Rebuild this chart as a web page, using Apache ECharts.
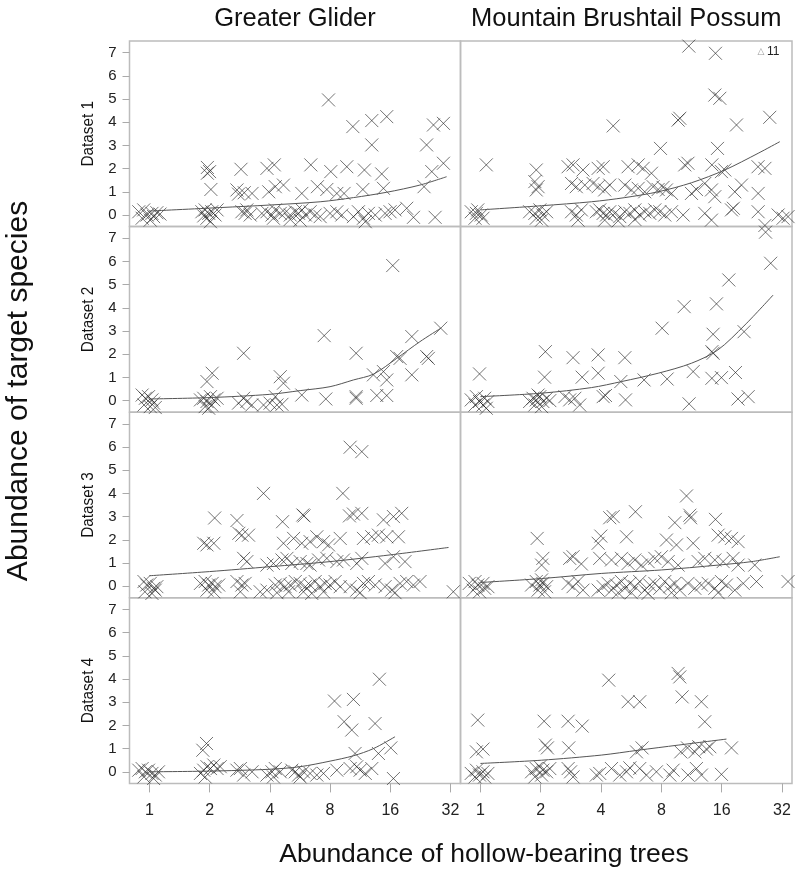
<!DOCTYPE html>
<html>
<head>
<meta charset="utf-8">
<script src="https://cdn.jsdelivr.net/npm/echarts@6/dist/echarts.min.js"></script>
<style>
html,body{margin:0;padding:0;background:#fff;}
#chart{width:797px;height:873px;}
</style>
</head>
<body>
<div id="chart"></div>
<script>
// ---------- data (x = abundance of hollow-bearing trees, y = abundance of target species) ----------
const columnTitles = ['Greater Glider', 'Mountain Brushtail Possum'];
const rowTitles = ['Dataset 1', 'Dataset 2', 'Dataset 3', 'Dataset 4'];
const xTickValues = [1, 2, 4, 8, 16, 32];
const yTickValues = [0, 1, 2, 3, 4, 5, 6, 7];

// Greater Glider, Dataset 1
const gg1 = [[7.86,4.96],[10.4,3.81],[12.93,4.07],[15.36,4.24],[12.93,3.02],[24.3,3.02],[26.3,3.88],[29.5,3.95],[25.8,1.87],[29.5,2.23],[23.6,1.22],[1.95,2.05],[2.0,1.87],[1.95,1.8],[2.03,1.1],[2.87,1.97],[3.87,2.01],[4.21,2.16],[2.74,1.08],[2.98,0.96],[3.26,0.93],[3.95,1.0],[4.26,1.22],[4.68,1.29],[5.78,0.93],[6.41,2.16],[6.92,1.22],[7.71,1.1],[8.65,0.93],[9.4,0.93],[8.07,1.87],[9.7,2.08],[11.88,1.94],[14.5,1.77],[11.67,1.1],[14.79,1.15],[19.33,0.29],[20.9,-0.1],[26.8,-0.1],[2.79,0.9],
[0.885,0.14],[0.937,0.22],[0.974,0],[1.03,0.07],[1.09,0.1],[0.92,-0.14],[1.01,-0.22],[1.05,-0.07],[1.13,0.04],
[1.83,0.14],[1.9,0.22],[1.98,0.07],[2.05,0.14],[2.13,0],[1.94,-0.14],[2.02,-0.29],[2.18,0.22],[1.87,-0.04],
[2.9,0.14],[3.01,0.07],[3.19,0],[3.07,0.22],
[3.65,0.07],[3.87,0.14],[4.1,0],[4.26,0.22],[4.51,0.07],[4.77,0.1],[5.06,0],[5.36,0.14],[5.57,0.07],[5.79,0.22],[6.02,0],[6.36,0.14],[6.74,0],[7.14,-0.07],[4.17,-0.14],[5.06,-0.19],[5.67,-0.22],
[8.0,0.07],[8.65,0.14],[9.16,0],[10.47,-0.07],[11.09,0.14],[11.75,-0.14],[12.44,0.07],[13.45,0],[15.07,0.07],[15.96,0.14],[16.9,0.22],[12.0,-0.29]];

// Mountain Brushtail Possum, Dataset 1
const mb1 = [[10.97,7.28],[14.9,6.97],[14.8,5.17],[15.66,5.03],[9.89,4.17],[9.7,4.09],[18.97,3.88],[27.8,4.21],[4.6,3.84],[7.92,2.87],[15.25,2.87],[1.07,2.16],[1.9,1.94],[2.74,2.08],[2.9,2.16],[3.25,1.94],[3.87,2.01],[4.1,2.08],[5.46,2.08],[6.13,2.16],[6.49,2.01],[7.14,1.8],[10.47,2.16],[10.86,2.23],[14.3,2.16],[15.96,1.87],[24.3,2.08],[26.3,2.01],
[1.87,1.44],[1.94,1.22],[1.9,1.08],[2.85,1.36],[3.01,1.22],[3.32,1.29],[3.65,1.36],[3.87,1.22],[4.17,1.08],[4.42,1.29],
[5.26,1.29],[5.67,1.08],[6.13,1.15],[6.61,1.0],[7.28,1.22],[7.71,1.1],[8.16,1.19],[8.48,1.08],[8.99,0.93],
[11.31,0.93],[11.97,1.1],[13.18,1.36],[14.23,1.08],[14.79,0.79],[16.59,1.94],
[18.61,1.0],[20.09,1.29],[24.33,0.93],[18.3,0.29],
[0.9,0.14],[0.955,0.07],[1.01,0],[0.97,0.22],[0.94,-0.14],[1.03,-0.14],
[1.76,0.14],[1.87,0.07],[1.98,0.22],[2.05,0],[2.14,0.14],[1.9,-0.14],[2.02,-0.22],
[2.85,0.14],[3.01,0],[3.19,0.22],[3.07,-0.22],
[3.79,0.14],[3.94,0.22],[4.1,0.07],[4.26,0],[4.42,0.14],[4.68,0.07],[4.96,-0.07],[5.26,0.14],[5.57,0.07],[5.9,0.22],[6.24,0],[6.61,0.14],[7.0,0.07],[7.42,0.22],[7.86,0.14],[8.32,0],[8.99,0.14],[4.17,-0.22],[4.87,-0.25],[5.9,-0.19],
[10.27,0],[13.18,0.07],[14.23,-0.22],[17.91,0.22],[24.33,0.14],[30.6,0],[32.4,-0.14],[26.3,-0.45],[34.3,-0.07]];

// Greater Glider, Dataset 2
const gg2 = [[16.46,5.82],[7.48,2.8],[2.96,2.04],[10.8,2.04],[20.5,2.76],[28.6,3.12],[17.23,1.9],[17.91,1.82],[24.33,1.9],[24.8,1.82],[20.5,1.11],[13.18,1.11],[14.79,1.25],[15.36,0.89],[2.06,1.18],[1.94,0.82],[4.51,1.03],[4.68,0.75],[5.78,0.24],[7.62,0.07],[10.8,0.17],[10.8,0.1],[13.7,0.22],[15.36,0.22],
[0.92,0.24],[0.955,0.1],[0.99,0.17],[1.03,0.03],[1.05,-0.11],[0.94,-0.19],[1.01,-0.26],[1.07,-0.3],
[1.8,0.03],[1.87,0.1],[1.94,-0.04],[2.02,0.17],[2.1,0.03],[2.18,0.1],[1.9,-0.26],[2.05,-0.19],[1.98,-0.33],
[2.79,-0.11],[2.96,0.1],[3.07,-0.04],[3.25,-0.19],
[3.72,-0.19],[4.01,-0.11],[4.26,0.17],[4.34,-0.19],[4.6,-0.16]];

// Mountain Brushtail Possum, Dataset 2
const mb2 = [[26.5,7.26],[28.1,5.92],[17.37,5.2],[10.4,4.05],[15.07,4.17],[8.07,3.12],[14.5,2.86],[20.7,2.97],[14.3,2.11],[14.5,2.04],[2.11,2.11],[2.9,1.85],[3.87,1.97],[5.26,1.85],[0.99,1.15],[2.09,1.01],[3.22,1.01],[3.87,1.18],[5.02,0.82],[6.56,0.89],[8.55,0.93],[11.53,1.25],[14.3,0.96],[15.96,0.99],[18.75,1.21],[4.21,0.22],[5.3,0.03],[11.0,-0.14],[19.3,0.07],[21.7,0.17],
[0.9,0.03],[0.955,0.17],[0.99,-0.04],[1.05,0.1],[1.09,-0.04],[0.94,-0.19],[1.03,-0.19],[1.07,-0.33],
[1.76,-0.04],[1.83,0.1],[1.9,0.03],[1.98,0.17],[2.05,-0.04],[2.14,0.1],[2.22,0],[1.87,-0.19],[2.02,-0.26],[1.94,0.24],
[2.64,0.17],[2.79,0.03],[2.96,0.1],[3.13,-0.19],[4.1,0.17]];

// Greater Glider, Dataset 3
const gg3 = [[10.08,5.99],[11.53,5.8],[3.72,4.0],[9.27,4.0],[2.12,2.94],[2.74,2.83],[4.63,2.78],[5.85,3.07],[5.93,3.03],[10.0,3.03],[10.47,3.11],[11.53,3.14],[14.79,2.86],[16.6,3.0],[18.25,3.14],
[2.8,2.28],[2.9,2.2],[3.13,2.2],[1.87,1.85],[1.94,1.78],[2.1,1.85],
[4.68,1.85],[5.26,2.06],[5.78,1.85],[6.36,1.92],[6.87,2.13],[7.42,1.92],[7.86,1.78],[8.99,2.06],
[11.75,2.06],[12.93,2.13],[13.96,2.2],[15.36,2.13],[17.57,2.13],
[2.96,1.2],[3.07,1.06],
[3.87,0.91],[4.17,0.98],[4.6,1.13],[4.87,1.2],[5.15,0.98],[5.67,1.06],[6.13,0.98],[6.36,0.91],[7.01,1.13],[7.71,1.2],
[8.65,1.06],[9.34,1.13],[10.88,0.98],[11.53,1.2],[15.07,0.98],[16.6,1.27],[18.95,1.06],
[0.94,0.2],[0.97,0.05],[1.01,0.12],[1.05,-0.09],[1.09,-0.02],[0.95,-0.24],[1.03,-0.31],[1.07,-0.17],
[1.8,0.12],[1.9,0.2],[1.98,0.05],[2.06,0.12],[2.13,-0.02],[2.22,0.05],[1.94,-0.17],[2.1,-0.24],
[2.74,0.2],[2.9,0.05],[3.01,0.12],[2.85,-0.24],
[3.58,-0.24],[3.87,-0.17],[4.26,0.05],[4.51,0.12],[4.77,-0.02],[5.06,0.05],[5.36,0.2],[5.67,0.12],[6.02,-0.02],[6.36,0.05],[6.74,0.2],[7.14,-0.02],[7.56,0.12],[8.0,0.05],[8.48,0.2],[8.99,-0.02],[4.34,-0.28],[4.96,-0.24],[5.89,-0.24],[6.48,-0.31],[7.42,-0.24],
[10.08,-0.02],[10.88,-0.17],[11.75,0.12],[12.44,0.2],[13.45,0.05],[15.07,-0.02],[16.27,-0.17],[17.91,0.12],[19.33,0.2],[20.87,0.05],[22.53,0.2],[11.31,-0.28],[16.9,-0.28],[33.06,-0.24]];

// Mountain Brushtail Possum, Dataset 3
const mb3 = [[10.68,3.89],[11.09,3.06],[11.2,2.95],[4.42,2.95],[4.6,3.0],[5.94,3.21],[9.34,2.74],[14.9,2.88],[1.92,2.06],[3.99,2.16],[3.87,1.85],[5.36,2.13],[8.48,1.99],[9.52,1.78],[11.53,1.85],[15.36,2.2],[16.59,2.13],[17.91,2.06],[19.33,1.92],
[2.05,1.2],[2.02,0.91],[2.79,1.2],[2.9,1.27],[3.19,0.96],[3.94,1.2],[4.51,1.13],[5.06,1.2],[5.46,0.98],[5.9,1.13],[6.36,0.91],[6.87,1.06],[7.42,1.2],[8.0,1.27],[8.65,1.06],[9.7,0.91],[12.21,1.06],[13.18,1.2],[14.79,1.13],[16.27,1.06],[18.25,1.2],[19.33,0.91],[23.4,0.91],
[0.88,0.12],[0.94,0.2],[0.97,0.05],[1.03,0.12],[1.09,-0.02],[0.92,-0.17],[0.99,-0.24],[1.05,-0.09],
[1.8,0.05],[1.9,0.2],[1.98,0.05],[2.05,0.12],[2.14,-0.02],[1.94,-0.17],[2.09,-0.24],[2.02,0.27],
[2.74,0.12],[2.9,-0.02],[3.07,0.2],[3.25,-0.17],
[3.87,-0.17],[4.1,-0.02],[4.34,0.12],[4.51,-0.17],[4.77,0.05],[5.06,0.2],[5.26,-0.09],[5.57,0.12],[5.9,-0.02],[6.24,0.2],[6.61,-0.17],[7.0,0.05],[7.42,0.12],[7.86,-0.09],[8.32,0.2],[8.82,-0.02],[9.34,0.12],[9.89,-0.17],[4.87,-0.28],[5.67,-0.28],[6.87,-0.31],[8.99,-0.28],
[10.86,0.12],[11.75,-0.09],[12.68,0.05],[13.7,0.12],[14.79,-0.09],[15.96,0.2],[16.9,0.05],[18.61,-0.17],[20.5,0.12],[23.88,0.2],[34.3,0.2],[15.36,-0.28]];

// Greater Glider, Dataset 4
const gg4 = [[14.12,3.99],[8.42,3.05],[10.47,3.12],[9.41,2.16],[10.27,1.8],[13.43,2.08],[1.93,1.22],[1.85,0.93],[10.67,0.79],[13.96,0.79],[16.1,1.03],
[0.885,0.07],[0.92,0.14],[0.955,0],[0.99,0.07],[1.03,-0.07],[1.07,-0.14],[1.11,0],[0.94,-0.22],[1.05,-0.29],
[1.8,-0.07],[1.87,0.07],[1.94,0.22],[2.02,0.14],[2.1,0.29],[2.18,0.14],[2.26,0.22],[1.9,-0.22],
[2.74,0.07],[2.85,0.14],[2.96,-0.14],[3.26,0],
[3.87,-0.14],[4.1,0],[4.26,0.14],[4.51,0],[5.15,0.07],[5.36,0],[5.57,-0.14],[5.89,0],[6.36,-0.07],[6.87,-0.14],[7.42,-0.07],[8.65,0.07],[4.17,-0.22],[5.67,-0.22],
[10.08,0.14],[10.88,0.22],[11.31,0.07],[12.0,-0.07],[12.93,0.14],[16.59,-0.29]];

// Mountain Brushtail Possum, Dataset 4
const mb4 = [[4.37,3.95],[9.7,4.24],[9.89,4.09],[5.46,3.02],[6.24,3.02],[10.16,3.23],[12.68,3.02],[13.18,2.16],[0.97,2.23],[2.08,2.18],[2.74,2.18],[3.22,1.97],[0.955,0.86],[1.03,0.98],[2.11,1.15],[2.16,1.03],[2.76,1.03],[6.01,0.86],[6.41,1.03],[10.0,0.86],[10.8,1.03],[11.75,0.86],[12.3,1.08],[13.43,0.98],[13.96,1.08],[17.91,1.03],
[0.9,-0.07],[0.955,0.07],[0.99,-0.14],[1.03,0],[1.09,-0.07],[0.94,-0.22],[1.05,-0.22],
[1.8,0],[1.9,0.14],[1.98,0.22],[2.05,0.07],[2.14,0],[2.22,0.14],[1.87,-0.22],[2.02,-0.14],
[2.74,0.14],[2.82,0],[2.9,-0.22],
[3.79,-0.14],[3.94,-0.07],[4.51,0.14],[4.96,-0.14],[5.36,0],[5.57,0.17],[6.24,0.14],[6.74,-0.14],[7.56,0],[8.82,-0.14],[9.16,0.07],[10.86,-0.14],[11.97,0.14],[12.68,-0.14],[15.96,-0.11]];

// fitted curves
const fitGG1 = [[1,0.17],[2.26,0.32],[4,0.43],[7.14,0.57],[10.47,0.75],[15.36,0.98],[22.5,1.29],[30.6,1.65]];
const fitMB1 = [[1,0.22],[2.02,0.4],[3.58,0.57],[5.26,0.75],[7.71,1.0],[11.31,1.39],[16.59,1.94],[24.33,2.66],[31.2,3.16]];
const fitGG2 = [[1,0.07],[2,0.13],[4,0.27],[5.67,0.43],[8,0.6],[10.47,0.89],[13.18,1.14],[17.23,1.82],[22.5,2.54],[28.6,3.12]];
const fitMB2 = [[1,0.17],[2.02,0.32],[3.58,0.56],[5.06,0.82],[7.71,1.18],[11.3,1.61],[15.3,2.18],[20.9,3.26],[28.9,4.55]];
const fitGG3 = [[1,0.45],[2,0.63],[4,0.84],[8,1.06],[16,1.35],[31.3,1.67]];
const fitMB3 = [[1,0.16],[2.02,0.33],[4.01,0.55],[8,0.7],[15.36,0.91],[22.6,1.06],[31.2,1.27]];
const fitGG4 = [[1,0],[2,0.03],[4,0.11],[5.67,0.22],[8,0.46],[10.47,0.69],[13.18,1.0],[16.9,1.51]];
const fitMB4 = [[1,0.36],[2.02,0.5],[4.01,0.72],[6.13,0.93],[9.7,1.15],[16.9,1.41]];

const panelPoints = [[gg1, mb1], [gg2, mb2], [gg3, mb3], [gg4, mb4]];
const panelFits = [[fitGG1, fitMB1], [fitGG2, fitMB2], [fitGG3, fitMB3], [fitGG4, fitMB4]];

// ---------- layout ----------
const FONT = "'Liberation Sans', Arial, sans-serif";
const colLeft = [129.5, 460.5];
const colWidth = [331, 331.5];
const rowTop = 41, rowH = 185.6;
const xMin = -0.33, xMax = 5.166; // log2 units
const toLog = p => [Math.log2(p[0]), p[1]];

const grids = [], xAxes = [], yAxes = [], series = [];
let idx = 0;
for (let r = 0; r < 4; r++) {
  for (let c = 0; c < 2; c++) {
    grids.push({
      left: colLeft[c], top: rowTop + rowH * r, width: colWidth[c], height: rowH,
      show: true, borderColor: '#bcbcbc', borderWidth: 1.5, backgroundColor: 'transparent'
    });
    const bottom = r === 3;
    xAxes.push({
      type: 'value', gridIndex: idx, min: xMin, max: xMax, position: 'bottom',
      axisLine: { show: false, onZero: false },
      splitLine: { show: false },
      axisTick: { show: bottom, length: 9, lineStyle: { color: '#aaaaaa', width: 1 },
                  customValues: xTickValues.map(Math.log2) },
      axisLabel: { show: bottom, margin: 19, fontSize: 16, color: '#222', fontFamily: FONT,
                   customValues: xTickValues.map(Math.log2),
                   formatter: v => String(Math.round(Math.pow(2, v))) }
    });
    const leftCol = c === 0;
    yAxes.push({
      type: 'value', gridIndex: idx, min: -0.5, max: 7.5, position: 'left',
      axisLine: { show: false, onZero: false },
      splitLine: { show: false },
      axisTick: { show: leftCol, length: 7, lineStyle: { color: '#aaaaaa', width: 1 },
                  customValues: yTickValues },
      axisLabel: { show: leftCol, margin: 13, fontSize: 15, color: '#222', fontFamily: FONT,
                   customValues: yTickValues }
    });
    series.push({
      type: 'scatter', xAxisIndex: idx, yAxisIndex: idx,
      data: panelPoints[r][c].map(toLog),
      symbol: 'path://M0,0L10,10M10,0L0,10',
      symbolSize: 13,
      itemStyle: { color: 'rgba(0,0,0,0)', borderColor: 'rgba(30,30,30,0.78)', borderWidth: 1 },
      emphasis: { disabled: true },
      z: 2
    });
    series.push({
      type: 'line', xAxisIndex: idx, yAxisIndex: idx,
      data: panelFits[r][c].map(toLog),
      showSymbol: false, smooth: 0.3,
      lineStyle: { color: '#555', width: 1 },
      emphasis: { disabled: true },
      z: 3
    });
    idx++;
  }
}

const graphics = [];
// column titles
columnTitles.forEach((t, c) => {
  graphics.push({ type: 'text', x: colLeft[c] + colWidth[c] / 2, y: 19,
    style: { text: t, fontSize: 25.5, fontFamily: FONT, fill: '#111', align: 'center', verticalAlign: 'middle' } });
});
// row titles
rowTitles.forEach((t, r) => {
  graphics.push({ type: 'text', x: 88, y: rowTop + rowH * r + rowH / 2, rotation: Math.PI / 2, scaleX: 0.9,
    style: { text: t, fontSize: 17, fontFamily: FONT, fill: '#111', align: 'center', verticalAlign: 'middle' } });
});
// axis titles
graphics.push({ type: 'text', x: 19, y: 391, rotation: Math.PI / 2,
  style: { text: 'Abundance of target species', fontSize: 30, fontFamily: FONT, fill: '#111', align: 'center', verticalAlign: 'middle' } });
graphics.push({ type: 'text', x: 484, y: 855,
  style: { text: 'Abundance of hollow-bearing trees', fontSize: 26.5, fontFamily: FONT, fill: '#111', align: 'center', verticalAlign: 'middle' } });
// off-scale annotation
graphics.push({ type: 'text', x: 761, y: 52,
  style: { text: '△', fontSize: 9, fontFamily: "'DejaVu Sans', sans-serif", fill: '#999', align: 'center', verticalAlign: 'middle' } });
graphics.push({ type: 'text', x: 767, y: 52,
  style: { text: '11', fontSize: 12, fontFamily: FONT, fill: '#222', align: 'left', verticalAlign: 'middle' } });

const chart = echarts.init(document.getElementById('chart'), null, { renderer: 'canvas' });
chart.setOption({
  animation: false,
  backgroundColor: '#fff',
  grid: grids, xAxis: xAxes, yAxis: yAxes, series: series,
  graphic: graphics
});
</script>
</body>
</html>
